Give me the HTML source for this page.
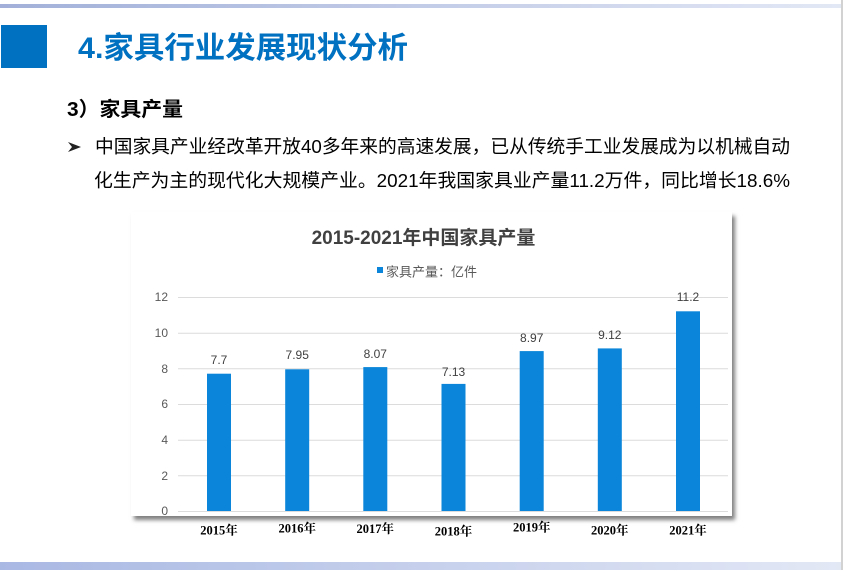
<!DOCTYPE html>
<html><head><meta charset="utf-8"><style>
html,body{margin:0;padding:0;background:#fff;}
body{width:845px;height:570px;position:relative;overflow:hidden;}
.box{position:absolute;left:131px;top:212px;width:601px;height:304px;background:#fff;box-shadow:3px 4px 4px rgba(0,0,0,0.5);}
svg{position:absolute;left:0;top:0;}
</style></head><body>
<div class="box"></div>
<svg width="845" height="570" viewBox="0 0 845 570" xmlns="http://www.w3.org/2000/svg">
<defs>
<linearGradient id="tb" x1="0" x2="1" y1="0" y2="0"><stop offset="0" stop-color="#a2b0d9"/><stop offset="1" stop-color="#e3e8f5"/></linearGradient>
<linearGradient id="bb" x1="0" x2="1" y1="0" y2="0"><stop offset="0" stop-color="#a9b8e3"/><stop offset="1" stop-color="#e3e8f5"/></linearGradient>
</defs>
<rect x="0" y="4" width="841" height="4" fill="url(#tb)"/>
<rect x="0" y="562" width="841" height="8" fill="url(#bb)"/>
<rect x="841" y="0" width="2" height="570" fill="#d2d2d2"/>
<rect x="1" y="25" width="46" height="43" fill="#0070c0"/>
<text x="78" y="58" font-family="Liberation Sans, Noto Sans CJK SC, sans-serif" font-weight="bold" font-size="30" fill="#0070c0" textLength="330" lengthAdjust="spacingAndGlyphs">4.家具行业发展现状分析</text>
<text x="67" y="116" font-family="Liberation Sans, Noto Sans CJK SC, sans-serif" font-weight="bold" font-size="20" fill="#000" textLength="116" lengthAdjust="spacingAndGlyphs">3）家具产量</text>
<polygon points="68,142 81,147 68,152 72,147" fill="#222"/>
<text x="95" y="153" font-family="Liberation Sans, Noto Sans CJK SC, sans-serif" font-size="18.7" fill="#000" textLength="695" lengthAdjust="spacingAndGlyphs">中国家具产业经改革开放40多年来的高速发展，已从传统手工业发展成为以机械自动</text>
<text x="94" y="187" font-family="Liberation Sans, Noto Sans CJK SC, sans-serif" font-size="18.7" fill="#000" textLength="696" lengthAdjust="spacingAndGlyphs">化生产为主的现代化大规模产业。2021年我国家具业产量11.2万件，同比增长18.6%</text>

<text x="423.5" y="244" text-anchor="middle" font-family="Liberation Sans, Noto Sans CJK SC, sans-serif" font-weight="bold" font-size="19" fill="#404040">2015-2021年中国家具产量</text>
<rect x="377" y="267" width="6" height="6" fill="#0a85d9"/>
<text x="386" y="276.5" font-family="Liberation Sans, Noto Sans CJK SC, sans-serif" font-size="13" fill="#595959">家具产量：亿件</text>

<g stroke="#dcdcdc" stroke-width="1">
<line x1="178" x2="728" y1="297.5" y2="297.5"/>
<line x1="178" x2="728" y1="333.2" y2="333.2"/>
<line x1="178" x2="728" y1="368.8" y2="368.8"/>
<line x1="178" x2="728" y1="404.5" y2="404.5"/>
<line x1="178" x2="728" y1="440.2" y2="440.2"/>
<line x1="178" x2="728" y1="475.8" y2="475.8"/>
<line x1="178" x2="728" y1="511.5" y2="511.5"/>
</g>
<g font-family="Liberation Sans, sans-serif" font-size="12" fill="#595959" text-anchor="end">
<text x="168" y="301">12</text>
<text x="168" y="337">10</text>
<text x="168" y="373">8</text>
<text x="168" y="408">6</text>
<text x="168" y="444">4</text>
<text x="168" y="480">2</text>
<text x="168" y="515">0</text>
</g>
<g fill="#0a85d9">
<rect x="207" y="373.7" width="24" height="137.3"/>
<rect x="285.2" y="369.3" width="24" height="141.7"/>
<rect x="363.3" y="367.1" width="24" height="143.9"/>
<rect x="441.5" y="383.9" width="24" height="127.1"/>
<rect x="519.7" y="351.1" width="24" height="159.9"/>
<rect x="597.8" y="348.4" width="24" height="162.6"/>
<rect x="676" y="311.3" width="24" height="199.7"/>
</g>
<g font-family="Liberation Sans, sans-serif" font-size="12" fill="#404040" text-anchor="middle">
<text x="219" y="364">7.7</text>
<text x="297.2" y="359">7.95</text>
<text x="375.3" y="358">8.07</text>
<text x="453.5" y="376">7.13</text>
<text x="531.7" y="342">8.97</text>
<text x="609.8" y="339">9.12</text>
<text x="688" y="301">11.2</text>
</g>
<g font-family="Liberation Serif, Noto Serif CJK SC, serif" font-weight="bold" font-size="12.5" fill="#000" text-anchor="middle">
<text x="219" y="534.5">2015年</text>
<text x="297.2" y="532.5">2016年</text>
<text x="375.3" y="533">2017年</text>
<text x="453.5" y="535.5">2018年</text>
<text x="531.7" y="531.5">2019年</text>
<text x="609.8" y="534.5">2020年</text>
<text x="688" y="534.5">2021年</text>
</g>
</svg>
</body></html>
